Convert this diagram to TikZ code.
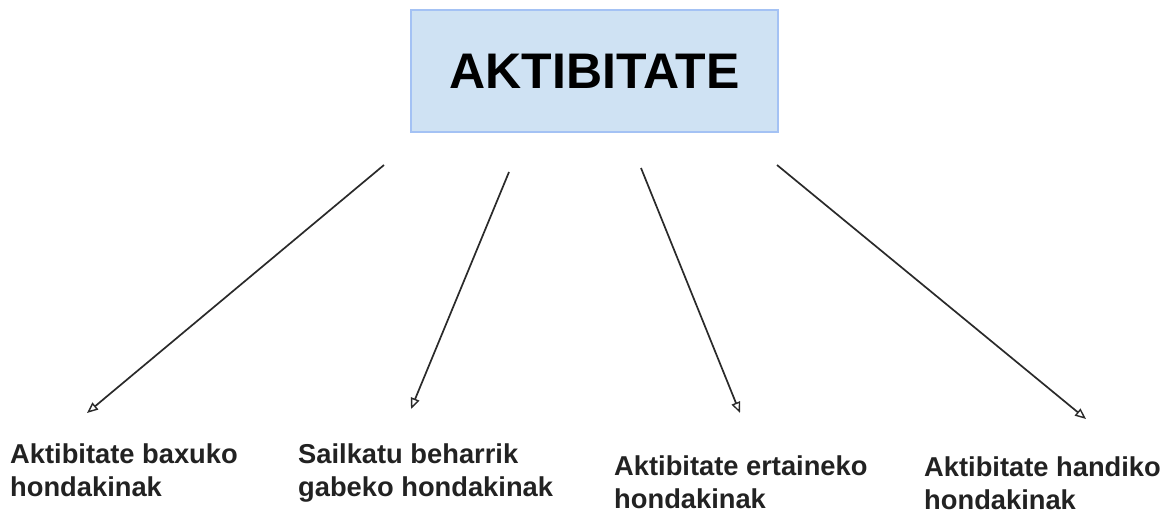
\documentclass[tikz,border=0pt]{standalone}
\usepackage{fontspec}
\setmainfont{Liberation Sans}
\usetikzlibrary{arrows.meta}
\definecolor{boxfill}{HTML}{CFE2F3}
\definecolor{boxline}{HTML}{A4C2F4}
\definecolor{txt}{HTML}{222222}
\definecolor{arr}{HTML}{2A2A2A}
\tikzset{
  titlebox/.style={draw=boxline, line width=1.3pt, fill=boxfill, minimum width=367pt, minimum height=122pt, inner sep=0pt, font=\fontsize{50}{58}\selectfont\bfseries},
  leaf/.style={anchor=base west, inner sep=0pt, text=txt, font=\fontsize{27.3}{33}\selectfont\bfseries},
  conn/.style={draw=arr, line width=1.7pt, -{Triangle[open, length=11pt, width=9pt, line width=1.4pt]}}
}
\newcommand{\twolines}[2]{\vtop{\baselineskip=33pt\hbox{#1}\hbox{#2}}}
\begin{document}
\begin{tikzpicture}[x=1pt, y=-1pt]
\useasboundingbox (0,0) rectangle (1169,514);
\node[titlebox] (top) at (594.5,71) {AKTIBITATE};
\node[leaf] (l1) at (10,463) {\twolines{Aktibitate baxuko}{hondakinak}};
\node[leaf] (l2) at (298,463) {\twolines{Sailkatu beharrik}{gabeko hondakinak}};
\node[leaf] (l3) at (614,475) {\twolines{Aktibitate ertaineko}{hondakinak}};
\node[leaf] (l4) at (924,476) {\twolines{Aktibitate handiko}{hondakinak}};
\coordinate (s1) at (384,165);
\coordinate (e1) at (87,413);
\coordinate (s2) at (509,172);
\coordinate (e2) at (411,409);
\coordinate (s3) at (641,168);
\coordinate (e3) at (740,413);
\coordinate (s4) at (777,165);
\coordinate (e4) at (1086,419);
\draw[conn] (s1) -- (e1);
\draw[conn] (s2) -- (e2);
\draw[conn] (s3) -- (e3);
\draw[conn] (s4) -- (e4);
\end{tikzpicture}
\end{document}
